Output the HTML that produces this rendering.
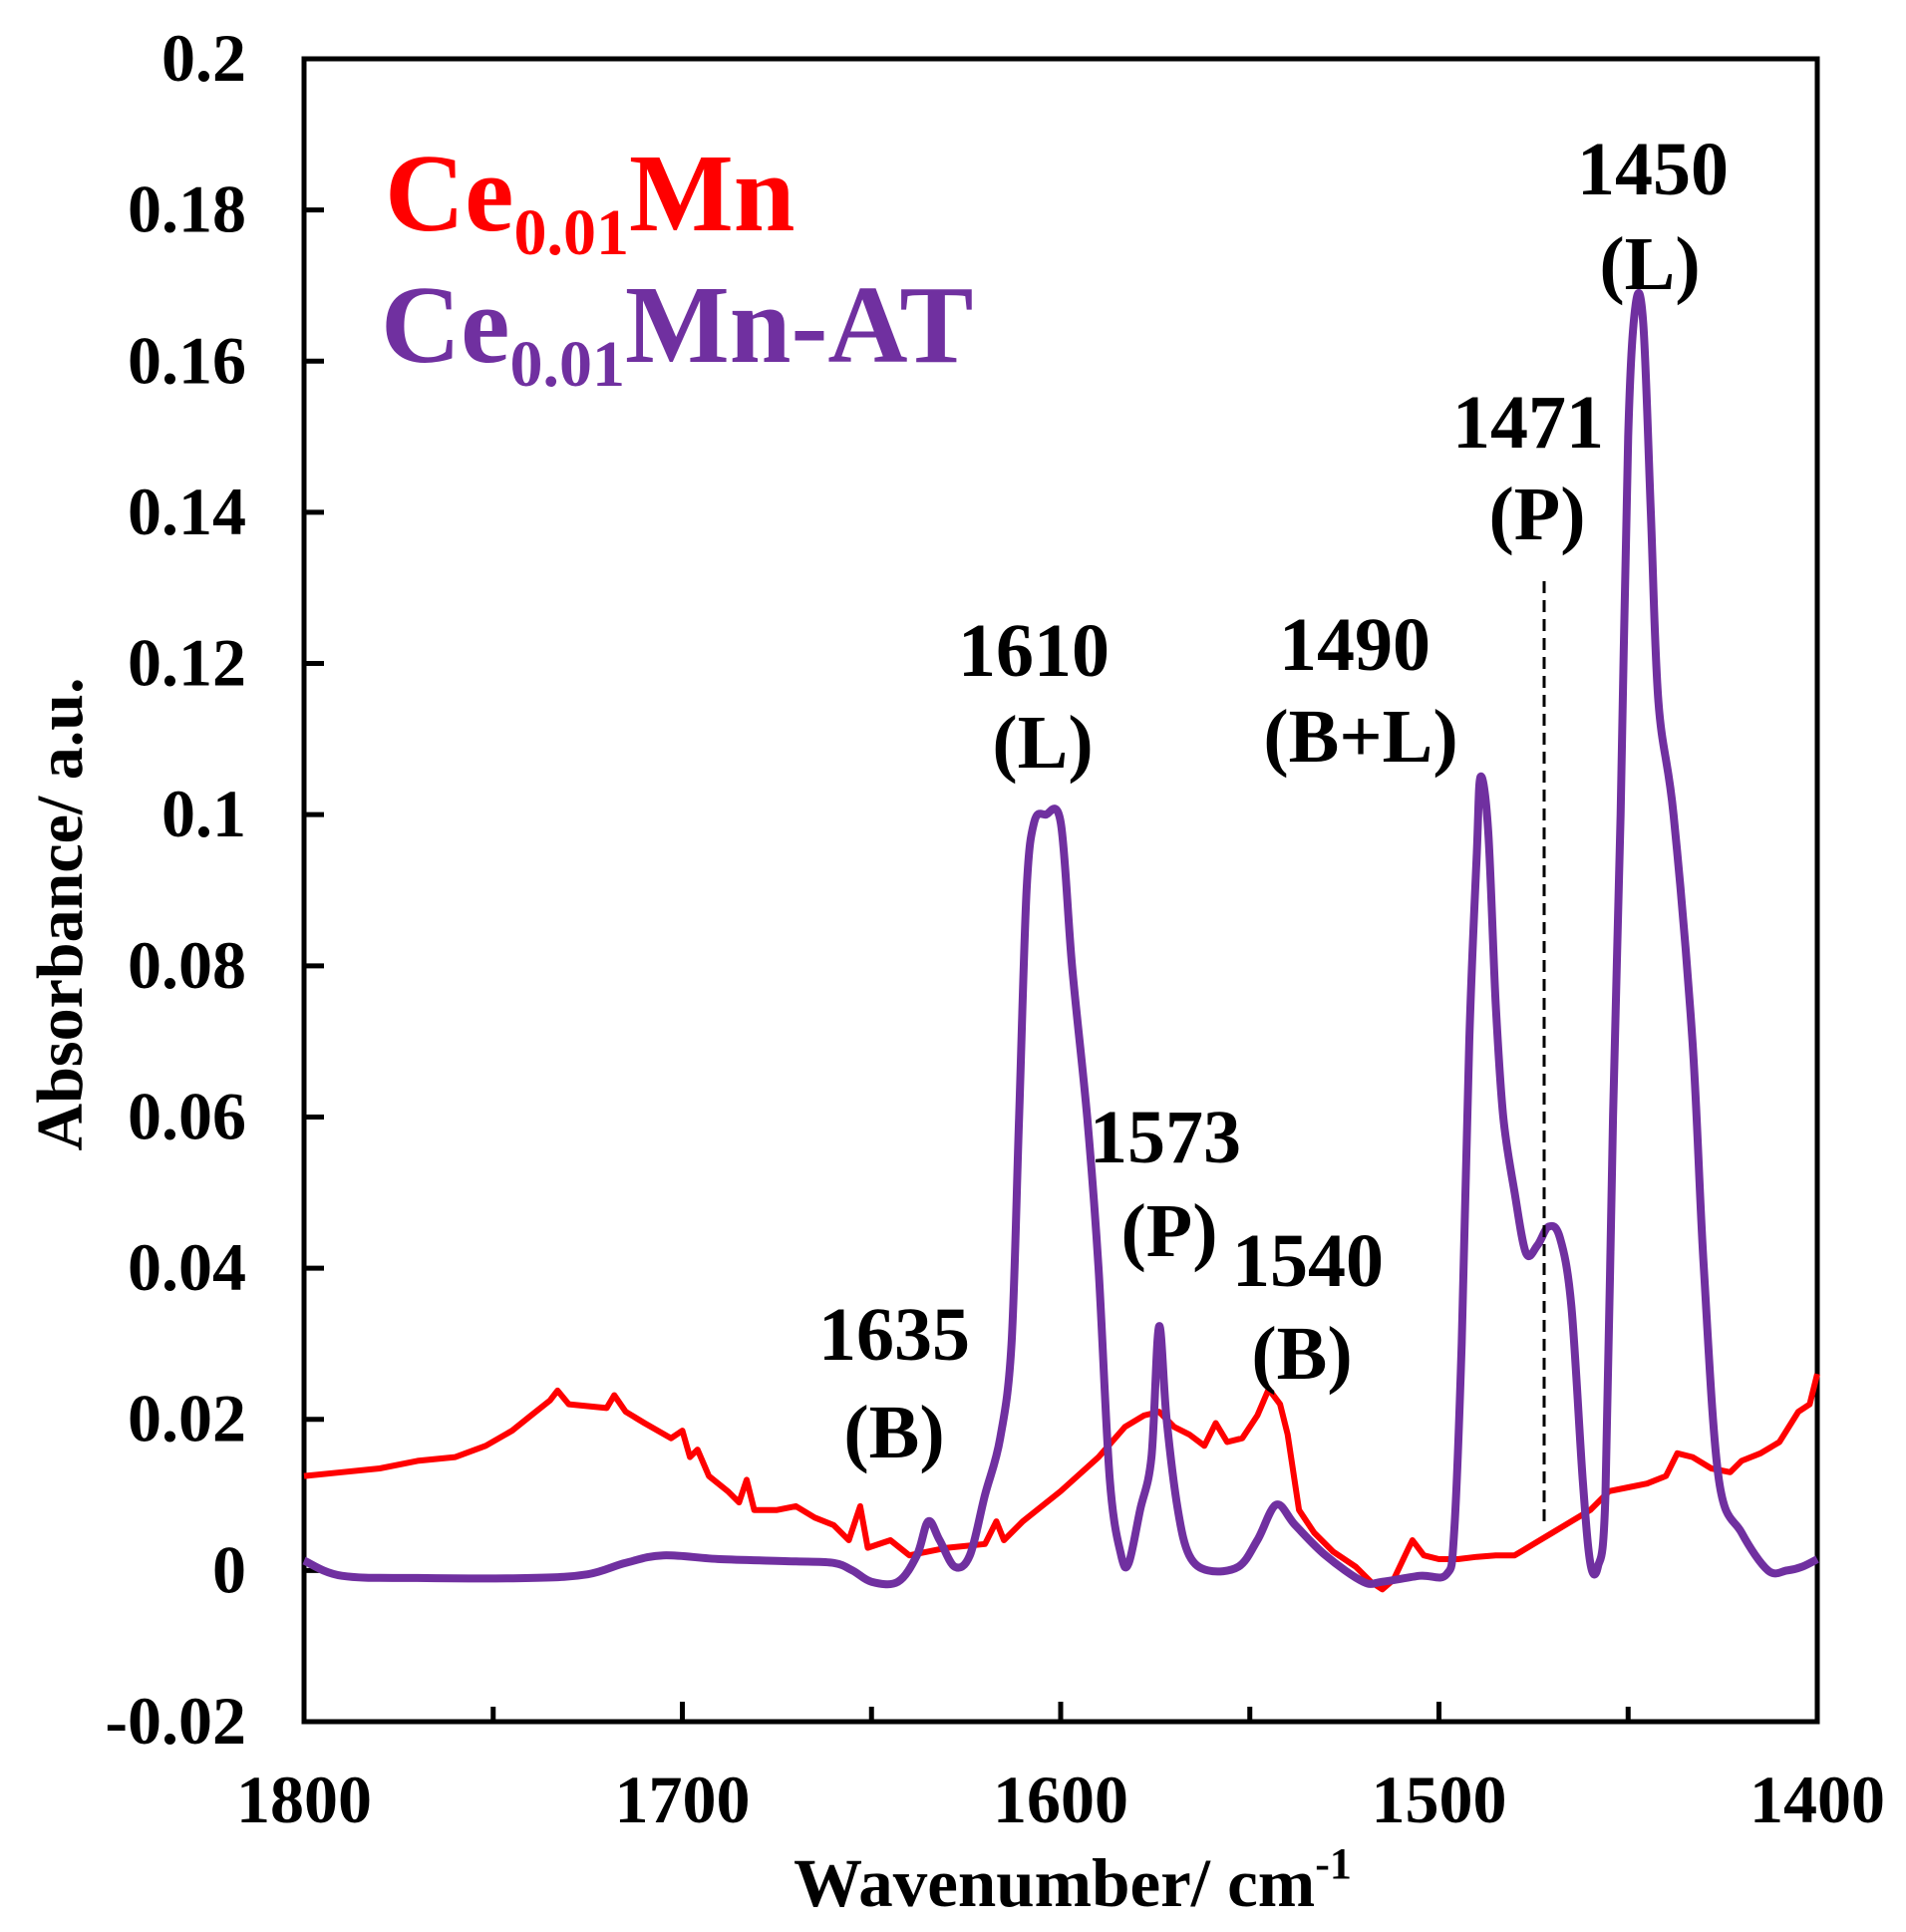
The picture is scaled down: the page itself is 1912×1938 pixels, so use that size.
<!DOCTYPE html>
<html><head><meta charset="utf-8"><style>
html,body{margin:0;padding:0;background:#fff;}
svg{display:block;font-family:"Liberation Serif",serif;font-weight:bold;}
</style></head><body>
<svg id="chart" width="1912" height="1938" viewBox="0 0 1912 1938" xmlns="http://www.w3.org/2000/svg">
<rect width="1912" height="1938" fill="#fff"/>
<g id="axes"></g>
<g id="series"></g>
<line x1="1549" y1="583" x2="1549" y2="1528" stroke="#000" stroke-width="3" stroke-dasharray="12,7"/>
<g font-size="111">
<text x="386" y="231" fill="#ff0000">Ce<tspan font-size="66" dy="24">0.01</tspan><tspan dy="-24">Mn</tspan></text>
<text x="382" y="363" fill="#7030a0">Ce<tspan font-size="66" dy="24">0.01</tspan><tspan dy="-24">Mn-AT</tspan></text>
</g>
<g font-size="76" text-anchor="middle" fill="#000">
<text x="1658" y="195">1450</text><text x="1655" y="290">(L)</text>
<text x="1533" y="449">1471</text><text x="1542" y="541">(P)</text>
<text x="1037" y="678">1610</text><text x="1046" y="770">(L)</text>
<text x="1359" y="672">1490</text><text x="1365" y="764">(B+L)</text>
<text x="1169" y="1166">1573</text><text x="1173" y="1260">(P)</text>
<text x="1312" y="1290">1540</text><text x="1306" y="1383">(B)</text>
<text x="897" y="1364">1635</text><text x="897" y="1462">(B)</text>
</g>
<text x="1076" y="1912" font-size="69" text-anchor="middle">Wavenumber/ cm<tspan font-size="44" dy="-28">-1</tspan></text>
<text transform="translate(82,917) rotate(-90)" font-size="66" text-anchor="middle">Absorbance/ a.u.</text>
</svg>
<script>
const xTicks=[1800,1700,1600,1500,1400];
const xMinor=[1750,1650,1550,1450];
const yTicks=[0.2,0.18,0.16,0.14,0.12,0.1,0.08,0.06,0.04,0.02,0,-0.02];
const yLabels=["0.2","0.18","0.16","0.14","0.12","0.1","0.08","0.06","0.04","0.02","0","-0.02"];
const atWn=[1800,1790,1770,1740,1725,1715,1705,1690,1670,1660,1655,1650,1643,1638,1635,1632,1628,1624,1620,1616,1613,1611,1609,1607,1604,1600,1597,1593,1590,1587,1584,1582,1579,1576,1574,1572,1569,1566,1561,1553,1548,1543,1538,1530,1520,1515,1505,1498,1496,1494,1492,1490,1489,1487,1485,1483,1480,1477,1474,1471,1468,1465,1462,1460,1458,1456,1454,1452,1450,1448,1446,1444,1442,1438,1433,1430,1426,1420,1413,1408,1404,1400];
const atAbs=[0.0013,-0.0007,-0.001,-0.001,-0.0005,0.001,0.002,0.0015,0.0012,0.001,0,-0.0015,-0.0015,0.002,0.0065,0.004,0.0005,0.002,0.01,0.0175,0.03,0.06,0.09,0.099,0.1,0.099,0.08,0.06,0.04,0.012,0.002,0.001,0.008,0.015,0.0323,0.02,0.008,0.002,0,0.0005,0.004,0.0087,0.006,0.002,-0.0015,-0.0015,-0.0007,-0.0005,0.005,0.03,0.07,0.095,0.105,0.098,0.075,0.06,0.05,0.042,0.043,0.0455,0.044,0.035,0.012,0.001,0.0005,0.01,0.06,0.1,0.15,0.1675,0.165,0.14,0.115,0.1,0.07,0.04,0.012,0.005,0,0,0.0005,0.0015];
const mnWn=[1800,1790,1780,1770,1760,1752,1745,1740,1735,1733,1730,1720,1718,1715,1710,1703,1700,1698,1696,1693,1688,1685,1683,1681,1675,1670,1665,1660,1656,1653,1651,1645,1640,1630,1620,1617,1615,1610,1600,1590,1583,1578,1574,1570,1566,1562,1559,1556,1552,1548,1545,1542,1540,1537,1533,1528,1522,1518,1515,1512,1508,1507,1504,1500,1495,1490,1485,1480,1475,1470,1465,1460,1455,1450,1445,1440,1437,1433,1428,1423,1420,1415,1410,1405,1402,1400];
const mnAbs=[0.0125,0.013,0.0135,0.0145,0.015,0.0165,0.0185,0.0205,0.0225,0.0238,0.022,0.0215,0.0232,0.021,0.0195,0.0175,0.0185,0.015,0.016,0.0125,0.0105,0.009,0.012,0.008,0.008,0.0085,0.007,0.006,0.004,0.0085,0.003,0.004,0.002,0.003,0.0035,0.0065,0.004,0.0065,0.0105,0.015,0.019,0.0205,0.021,0.019,0.018,0.0165,0.0195,0.017,0.0175,0.0205,0.024,0.022,0.018,0.008,0.005,0.0025,0.0005,-0.0015,-0.0025,-0.0012,0.003,0.004,0.002,0.0015,0.0015,0.0018,0.002,0.002,0.0035,0.005,0.0065,0.008,0.0105,0.011,0.0115,0.0125,0.0155,0.015,0.0135,0.013,0.0145,0.0155,0.017,0.021,0.022,0.026];
const X0=305,X1=1823,Y0=59,Y1=1727;
function xs(w){return X0+(1800-w)/400*(X1-X0);}
function ys(v){return Y0+(0.2-v)/0.22*(Y1-Y0);}
const NS="http://www.w3.org/2000/svg";
const axes=document.getElementById('axes');
const series=document.getElementById('series');
function mk(tag,attrs,parent){const e=document.createElementNS(NS,tag);for(const k in attrs)e.setAttribute(k,attrs[k]);parent.appendChild(e);return e;}
const frame=mk('rect',{x:X0,y:Y0,width:X1-X0,height:Y1-Y0,fill:'none',stroke:'#000','stroke-width':5},axes);


yTicks.forEach((v,i)=>{
  const y=ys(v);
  const t=mk('line',{x1:X0,x2:X0+20,y1:y,y2:y,stroke:'#000','stroke-width':5},axes);
  
  
  const l=mk('text',{x:247,y:y+22,'font-size':68,'text-anchor':'end'},axes);
  l.textContent=yLabels[i];
  
  
});
xTicks.forEach(w=>{
  const x=xs(w);
  const t=mk('line',{x1:x,x2:x,y1:Y1,y2:Y1-20,stroke:'#000','stroke-width':5},axes);
  
  
  const l=mk('text',{x:x,y:1828,'font-size':68,'text-anchor':'middle'},axes);
  l.textContent=String(w);
  
  
});
xMinor.forEach(w=>{
  const x=xs(w);
  const t=mk('line',{x1:x,x2:x,y1:Y1,y2:Y1-15,stroke:'#000','stroke-width':5},axes);
  
  
});
function path(wn,ab,smooth){
  const p=wn.map((w,i)=>[xs(w),ys(ab[i])]);
  if(!smooth) return p.map((q,i)=>(i?'L':'M')+q[0].toFixed(1)+','+q[1].toFixed(1)).join(' ');
  let d='M'+p[0][0].toFixed(1)+','+p[0][1].toFixed(1);
  for(let i=0;i<p.length-1;i++){
    const a=p[Math.max(0,i-1)],b=p[i],c=p[i+1],e=p[Math.min(p.length-1,i+2)];
    const t=0.3;
    let c1x=b[0]+(c[0]-a[0])*t/1.8,c1y=b[1]+(c[1]-a[1])*t/1.8;
    let c2x=c[0]-(e[0]-b[0])*t/1.8,c2y=c[1]-(e[1]-b[1])*t/1.8;
    d+=' C'+c1x.toFixed(1)+','+c1y.toFixed(1)+' '+c2x.toFixed(1)+','+c2y.toFixed(1)+' '+c[0].toFixed(1)+','+c[1].toFixed(1);
  }
  return d;
}
const red=mk('path',{d:path(mnWn,mnAbs,false),fill:'none',stroke:'#ff0000','stroke-width':6,'stroke-linejoin':'round'},series);


const pur=mk('path',{d:path(atWn,atAbs,true),fill:'none',stroke:'#7030a0','stroke-width':8,'stroke-linejoin':'round'},series);


</script>
</body></html>
